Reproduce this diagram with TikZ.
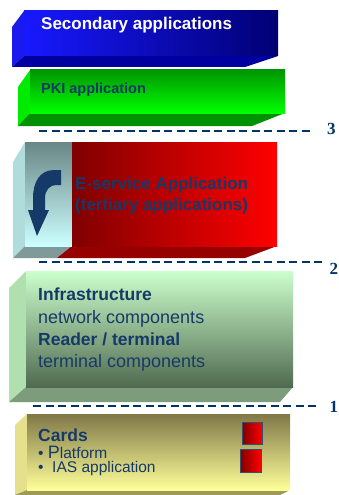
\documentclass[tikz,border=0pt]{standalone}
\usepackage{fontspec}
\setmainfont{Liberation Sans}
\newfontfamily\numfont{Liberation Serif}
\definecolor{navy}{HTML}{163A68}
\definecolor{dashc}{HTML}{003366}
\tikzset{
  lbl/.style={inner sep=0pt, anchor=base west, text=navy},
  sep/.style={draw=dashc, line width=2.2pt, dash pattern=on 8pt off 4.5pt},
  num/.style={inner sep=0pt, anchor=base west, text=dashc, font=\numfont\bfseries\fontsize{17}{17}\selectfont},
  redsq/.style={left color=red!50!black, right color=red, draw=navy!70!gray, line width=0.8pt},
}
\begin{document}
\begin{tikzpicture}[x=1pt,y=-1pt]
\useasboundingbox[fill=white] (0,0) rectangle (339,495);

% ---------- Secondary applications ----------
\fill[fill={rgb,255:red,26;green,26;blue,238}] (24,11) -- (12,27) -- (12,67) -- (24,56) -- cycle;
\fill[fill={rgb,255:red,0;green,0;blue,160}] (24,56) -- (278,56) -- (245,67) -- (12,67) -- cycle;
\shade[left color={rgb,255:red,24;green,24;blue,255}, right color={rgb,255:red,0;green,0;blue,115}] (24,11) rectangle (278,56);
\node[lbl, text=white, font=\bfseries\fontsize{17}{17}\selectfont] (sec) at (41,30) {Secondary applications};

% ---------- PKI application ----------
\fill[fill={rgb,255:red,0;green,235;blue,0}] (30,70) -- (18,87) -- (18,126) -- (30,113) -- cycle;
\fill[fill={rgb,255:red,0;green,145;blue,0}] (30,113) -- (285,113) -- (252,126) -- (18,126) -- cycle;
\shade[top color={rgb,255:red,0;green,150;blue,0}, middle color={rgb,255:red,0;green,230;blue,0}, bottom color={rgb,255:red,0;green,255;blue,0}] (30,70) rectangle (285,113);
\node[lbl, font=\bfseries\fontsize{14.5}{14.5}\selectfont] (pki) at (41,93) {PKI application};

% separator 3
\coordinate (s3a) at (39,131);
\coordinate (s3b) at (313,131);
\draw[sep] (s3a) -- (s3b);
\node[num] (n3) at (327,134) {3};

% ---------- E-service ----------
\fill[fill={rgb,255:red,176;green,220;blue,220}] (25,142) -- (13,162) -- (13,258) -- (25,246) -- cycle;
\fill[fill={rgb,255:red,127;green,154;blue,152}] (25,246) -- (72,246) -- (57,258) -- (13,258) -- cycle;
\fill[fill={rgb,255:red,150;green,0;blue,0}] (72,246) -- (277,246) -- (245,258) -- (57,258) -- cycle;
\shade[top color={rgb,255:red,106;green,134;blue,134}, middle color={rgb,255:red,176;green,222;blue,222}, bottom color={rgb,255:red,204;green,255;blue,255}] (25,142) rectangle (72,246);
\shade[left color={rgb,255:red,128;green,0;blue,0}, right color={rgb,255:red,255;green,0;blue,0}] (72,142) rectangle (277,246);
% bent arrow
\fill[navy] (61,170) -- (54,170) .. controls (40,170) and (33,182) .. (33,198) -- (33,210) -- (28,210) -- (37,236) -- (49,210) -- (45,210) -- (45,198) .. controls (45,190) and (50,185) .. (56,185) -- (61,185) -- cycle;
\node[lbl, font=\bfseries\fontsize{17}{17}\selectfont] (eserv1) at (75,189) {E-service Application};
\node[lbl, font=\bfseries\fontsize{17}{17}\selectfont] (eserv2) at (75,210) {(tertiary applications)};

% separator 2
\coordinate (s2a) at (39,262);
\coordinate (s2b) at (322,262);
\draw[sep] (s2a) -- (s2b);
\node[num] (n2) at (329.5,274) {2};

% ---------- Infrastructure ----------
\fill[fill={rgb,255:red,176;green,224;blue,176}] (26,271) -- (9,288) -- (9,402) -- (26,387) -- cycle;
\fill[fill={rgb,255:red,124;green,156;blue,124}] (26,387) -- (293,387) -- (280,402) -- (9,402) -- cycle;
\shade[top color={rgb,255:red,204;green,255;blue,204}, middle color={rgb,255:red,150;green,185;blue,150}, bottom color={rgb,255:red,80;green,106;blue,80}] (26,271) rectangle (293,387);
\node[lbl, font=\bfseries\fontsize{17.5}{17.5}\selectfont] (infra) at (38,300) {Infrastructure};
\node[lbl, font=\fontsize{18}{18}\selectfont] (netc) at (38,323) {network components};
\node[lbl, font=\bfseries\fontsize{17.5}{17.5}\selectfont] (reader) at (38,345) {Reader / terminal};
\node[lbl, font=\fontsize{18}{18}\selectfont] (termc) at (38,367) {terminal components};

% separator 1
\coordinate (s1a) at (33,406);
\coordinate (s1b) at (319,406);
\draw[sep] (s1a) -- (s1b);
\node[num] (n1) at (329.5,412) {1};

% ---------- Cards ----------
\fill[fill={rgb,255:red,228;green,224;blue,140}] (27,414) -- (15,425) -- (15,495) -- (27,490) -- cycle;
\fill[fill={rgb,255:red,160;green,154;blue,88}] (27,490) -- (290,490) -- (280,495) -- (15,495) -- cycle;
\shade[top color={rgb,255:red,127;green,120;blue,72}, middle color={rgb,255:red,200;green,196;blue,120}, bottom color={rgb,255:red,255;green,255;blue,153}] (27,414) rectangle (290,490);
\draw[redsq] (242,422) rectangle (262,444);
\draw[redsq] (240,449) rectangle (261,472);
\node[lbl, font=\bfseries\fontsize{17.5}{17.5}\selectfont] (cards) at (38,441) {Cards};
\node[lbl, font=\fontsize{15.5}{15.5}\selectfont] (plat) at (38,458) {\textbullet\ {\fontsize{18}{18}\selectfont P}latform};
\node[lbl, font=\fontsize{15.5}{15.5}\selectfont] (ias) at (38,472.5) {\textbullet\ \ IAS application};
\end{tikzpicture}
\end{document}
